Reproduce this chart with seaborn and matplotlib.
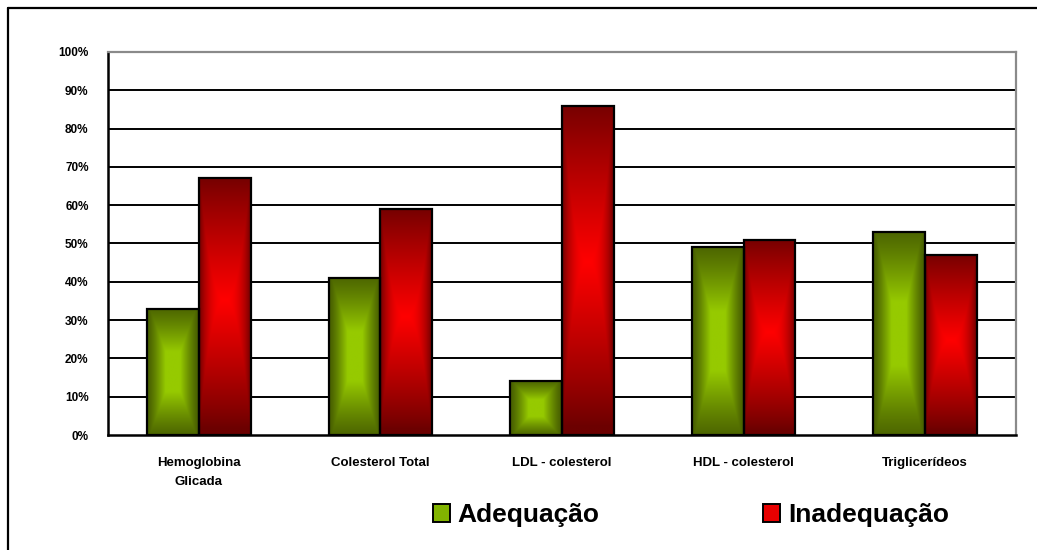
import numpy as np
import pandas as pd
import matplotlib
matplotlib.use("Agg")
import matplotlib.pyplot as plt
from matplotlib.patches import Patch
from matplotlib.lines import Line2D
from matplotlib.ticker import FuncFormatter
import seaborn as sns

# ---- data ----
categories = ["Hemoglobina\nGlicada", "Colesterol Total", "LDL - colesterol",
              "HDL - colesterol", "Triglicerídeos"]
groups = ["Adequação", "Inadequação"]
adequacao = [33, 41, 14, 49, 53]
inadequacao = [67, 59, 86, 51, 47]
y_ticks = [0, 10, 20, 30, 40, 50, 60, 70, 80, 90, 100]

df = pd.DataFrame({
    "categoria": categories * 2,
    "grupo": [groups[0]] * len(categories) + [groups[1]] * len(categories),
    "valor": adequacao + inadequacao,
})

# ---- style ----
sns.set_style("white")
plt.rcParams["font.family"] = ["Liberation Sans", "DejaVu Sans"]
plt.rcParams["font.weight"] = "bold"
plt.rcParams["text.color"] = "black"
plt.rcParams["xtick.color"] = "black"
plt.rcParams["ytick.color"] = "black"
plt.rcParams["xtick.labelcolor"] = "black"
plt.rcParams["ytick.labelcolor"] = "black"

GREEN_DARK = np.array([0x4a, 0x62, 0x00]) / 255
GREEN_LIGHT = np.array([0x96, 0xca, 0x00]) / 255
RED_DARK = np.array([0x6c, 0x00, 0x00]) / 255
RED_LIGHT = np.array([0xff, 0x00, 0x00]) / 255


def green_fill(n_y=240, n_x=80):
    u = np.abs(np.linspace(-1, 1, n_x))[None, :]
    v = np.abs(np.linspace(-1, 1, n_y))[:, None]
    t = np.maximum(u * 1.05, v * 0.95)
    f = np.clip((1 - t) / 0.7, 0, 1) ** 1.2
    return GREEN_DARK + (GREEN_LIGHT - GREEN_DARK) * f[..., None]


def red_fill(n_y=240, n_x=80):
    u = np.abs(np.linspace(-1, 1, n_x))[None, :]
    v = np.abs(np.linspace(-1.05, 0.95, n_y))[:, None]
    t = np.maximum(u ** 2.2, v)
    f = np.clip(1 - t, 0, 1) ** 0.9
    return RED_DARK + (RED_LIGHT - RED_DARK) * f[..., None]


fig = plt.figure(figsize=(10.37, 5.5), dpi=100)
fig.patch.set_facecolor("white")
ax = fig.add_axes([108 / 1037, 1 - 435 / 550, (1016 - 108) / 1037, (435 - 52) / 550])

sns.barplot(data=df, x="categoria", y="valor", hue="grupo", hue_order=groups,
            order=categories, palette=["#6f9a00", "#d00000"], saturation=1,
            width=0.57, edgecolor="black", linewidth=1.6, legend=False, ax=ax)

# gradient fills clipped to each bar
for bar in list(ax.patches):
    x0, y0 = bar.get_x(), bar.get_y()
    w, h = bar.get_width(), bar.get_height()
    fc = bar.get_facecolor()
    img = green_fill() if fc[1] > fc[0] else red_fill()
    im = ax.imshow(img, extent=[x0, x0 + w, y0, y0 + h], origin="lower",
                   aspect="auto", zorder=2.5, interpolation="bilinear")
    im.set_clip_path(bar)
    bar.set_facecolor("none")
    bar.set_zorder(3)

ax.set_xlim(-0.5, len(categories) - 0.5)
ax.set_ylim(0, 100)

# horizontal grid lines (black), top edge handled by the gray spine
for yv in y_ticks[1:-1]:
    ax.axhline(yv, color="black", lw=1.4, zorder=1)

ax.set_yticks(y_ticks)
ax.yaxis.set_major_formatter(FuncFormatter(lambda v, _: f"{v:.0f}%"))
ax.tick_params(axis="y", direction="out", length=7, width=1.6, color="black",
               pad=7, labelsize=8.5)
for lbl in ax.get_yticklabels():
    lbl.set_fontweight("bold")

ax.set_xticks(range(len(categories)))
ax.set_xticklabels(categories, fontsize=9.5, fontweight="bold", linespacing=1.75)
ax.set_xticks(np.arange(-0.5, len(categories), 1), minor=True)
ax.tick_params(axis="x", which="major", length=0, pad=16)
ax.tick_params(axis="x", which="minor", direction="out", length=6, width=1.6,
               color="black")
for lbl in ax.get_xticklabels():
    lbl.set_verticalalignment("top")

ax.set_xlabel("")
ax.set_ylabel("")

for side in ("left", "bottom"):
    ax.spines[side].set_color("black")
    ax.spines[side].set_linewidth(1.8)
for side in ("top", "right"):
    ax.spines[side].set_color("#8a8a8a")
    ax.spines[side].set_linewidth(1.6)
ax.spines["bottom"].set_zorder(4)

# legend
handles = [Patch(facecolor="#82b400", edgecolor="black", linewidth=1.4),
           Patch(facecolor="#e80000", edgecolor="black", linewidth=1.4)]
fig.legend(handles, groups, loc="center", bbox_to_anchor=(691 / 1037, 1 - 515 / 550),
           ncol=2, frameon=False, prop={"weight": "bold", "size": 19},
           labelcolor="black", handlelength=0.65, handleheight=0.65,
           handletextpad=0.3, columnspacing=6.2)

# outer frame of the chart area
fig.add_artist(Line2D([7.5 / 1037, 1.0], [1 - 7.5 / 550, 1 - 7.5 / 550],
                      transform=fig.transFigure, color="black", lw=1.6))
fig.add_artist(Line2D([7.5 / 1037, 7.5 / 1037], [0.0, 1 - 7.5 / 550],
                      transform=fig.transFigure, color="black", lw=1.6))

fig.savefig("out.png", dpi=100)
